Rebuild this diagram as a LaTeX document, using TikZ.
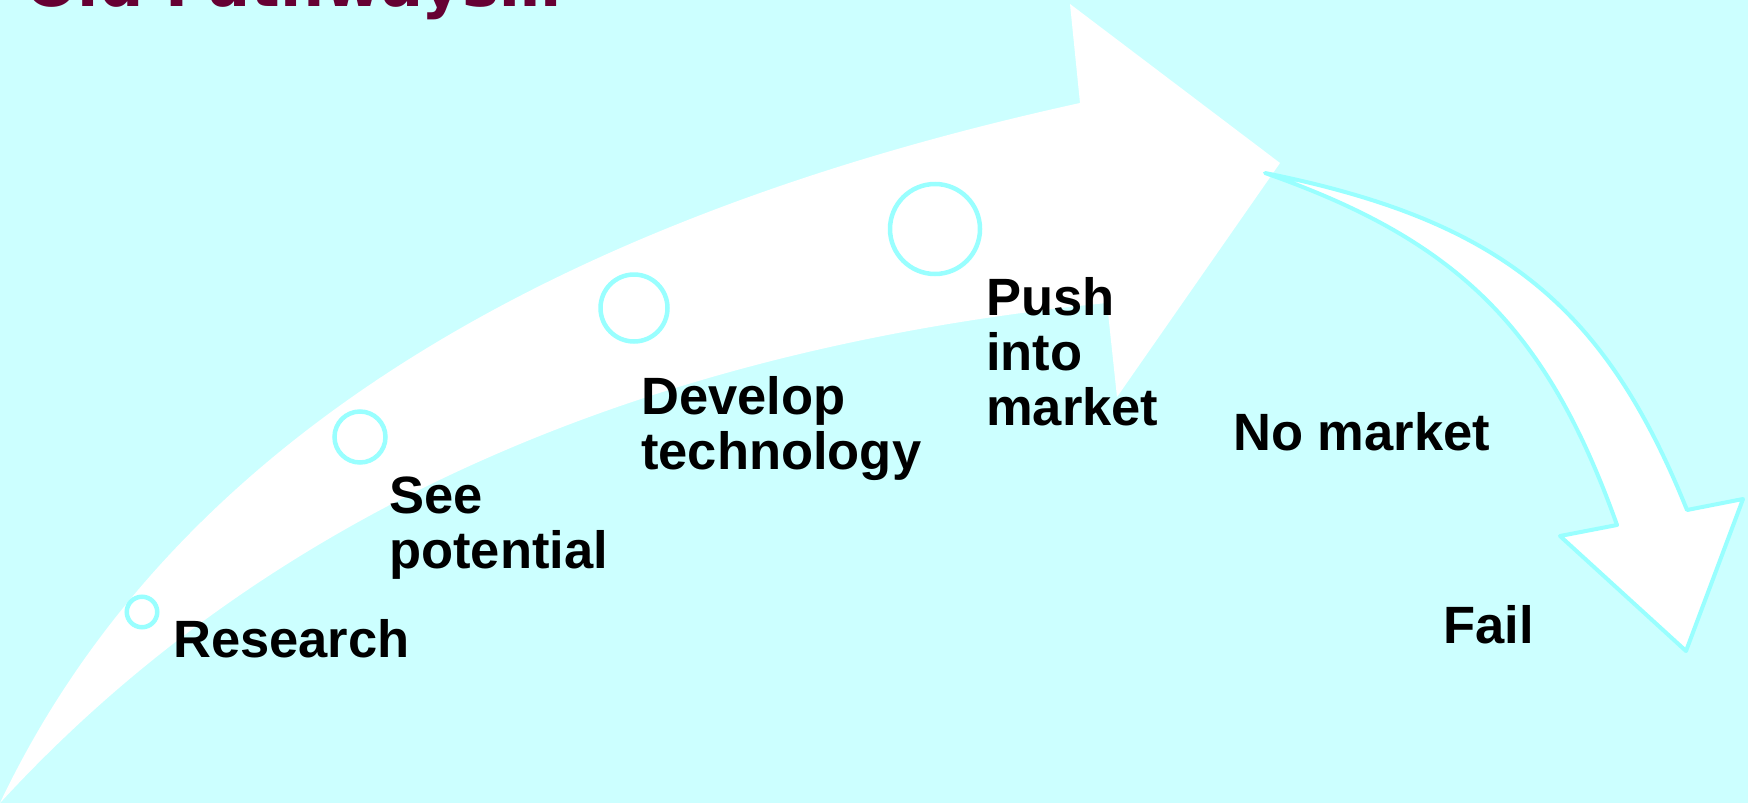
\documentclass[tikz,border=0pt]{standalone}
\usepackage{fontspec}
\setmainfont{Liberation Sans}
\newfontfamily\headfont{DejaVu Sans}
\usepackage{xcolor}
\usetikzlibrary{positioning}

\definecolor{bgcyan}{HTML}{CCFFFF}
\definecolor{ringcyan}{HTML}{99FFFF}
\definecolor{headred}{HTML}{660033}

\tikzset{
  ring/.style={circle, draw=ringcyan, line width=4.5pt, inner sep=0pt},
  steptext/.style={anchor=base west, align=left, inner sep=0pt,
    font=\fontsize{52.5}{55}\selectfont\bfseries},
}

\begin{document}
\begin{tikzpicture}[x=1pt, y=-1pt]
    \useasboundingbox (0,0) rectangle (1748,803);
    \clip (0,0) rectangle (1748,803);
    \fill[bgcyan] (0,0) rectangle (1748,803);

    % heading, mostly off the top edge
    \node[anchor=base west, inner sep=0pt, text=headred,
          font=\headfont\bfseries\fontsize{62}{62}\selectfont] (head) at (25,6) {Old Pathways…};

    % main sweeping arrow
    \fill[white] (0,803) .. controls (164,458) and (524,225) .. (1080,103)
        -- (1070,4) -- (1280,163) -- (1117,397) -- (1107,303)
        .. controls (628,351) and (259,521) .. (0,803) -- cycle;

    % turning-down arrow
    \filldraw[fill=white, draw=ringcyan, line width=4pt, line join=round]
        (1265,173) .. controls (1499,220) and (1604,304) .. (1687,510)
        -- (1743,499) -- (1686,651) -- (1560,536) -- (1617,525)
        .. controls (1547,329) and (1459,241) .. (1265,173) -- cycle;

    % stages along the arrow
    \node[ring, minimum size=30.5pt] (research) at (142,612) {};
    \node[ring, minimum size=51pt] (see) at (360,437) {};
    \node[ring, minimum size=67pt] (develop) at (634,308) {};
    \node[ring, minimum size=90pt] (push) at (935,229) {};

    % labels (base = last line)
    \node[steptext] (researchtxt) at (173,657) {Research};
    \node[steptext] (seetxt) at (389,568) {See\\potential};
    \node[steptext] (developtxt) at (641,469) {Develop\\technology};
    \node[steptext] (pushtxt) at (986,425) {Push\\into\\market};
    \node[steptext] (nomarket) at (1233,450) {No market};
    \node[steptext] (fail) at (1443,643) {Fail};
\end{tikzpicture}
\end{document}
